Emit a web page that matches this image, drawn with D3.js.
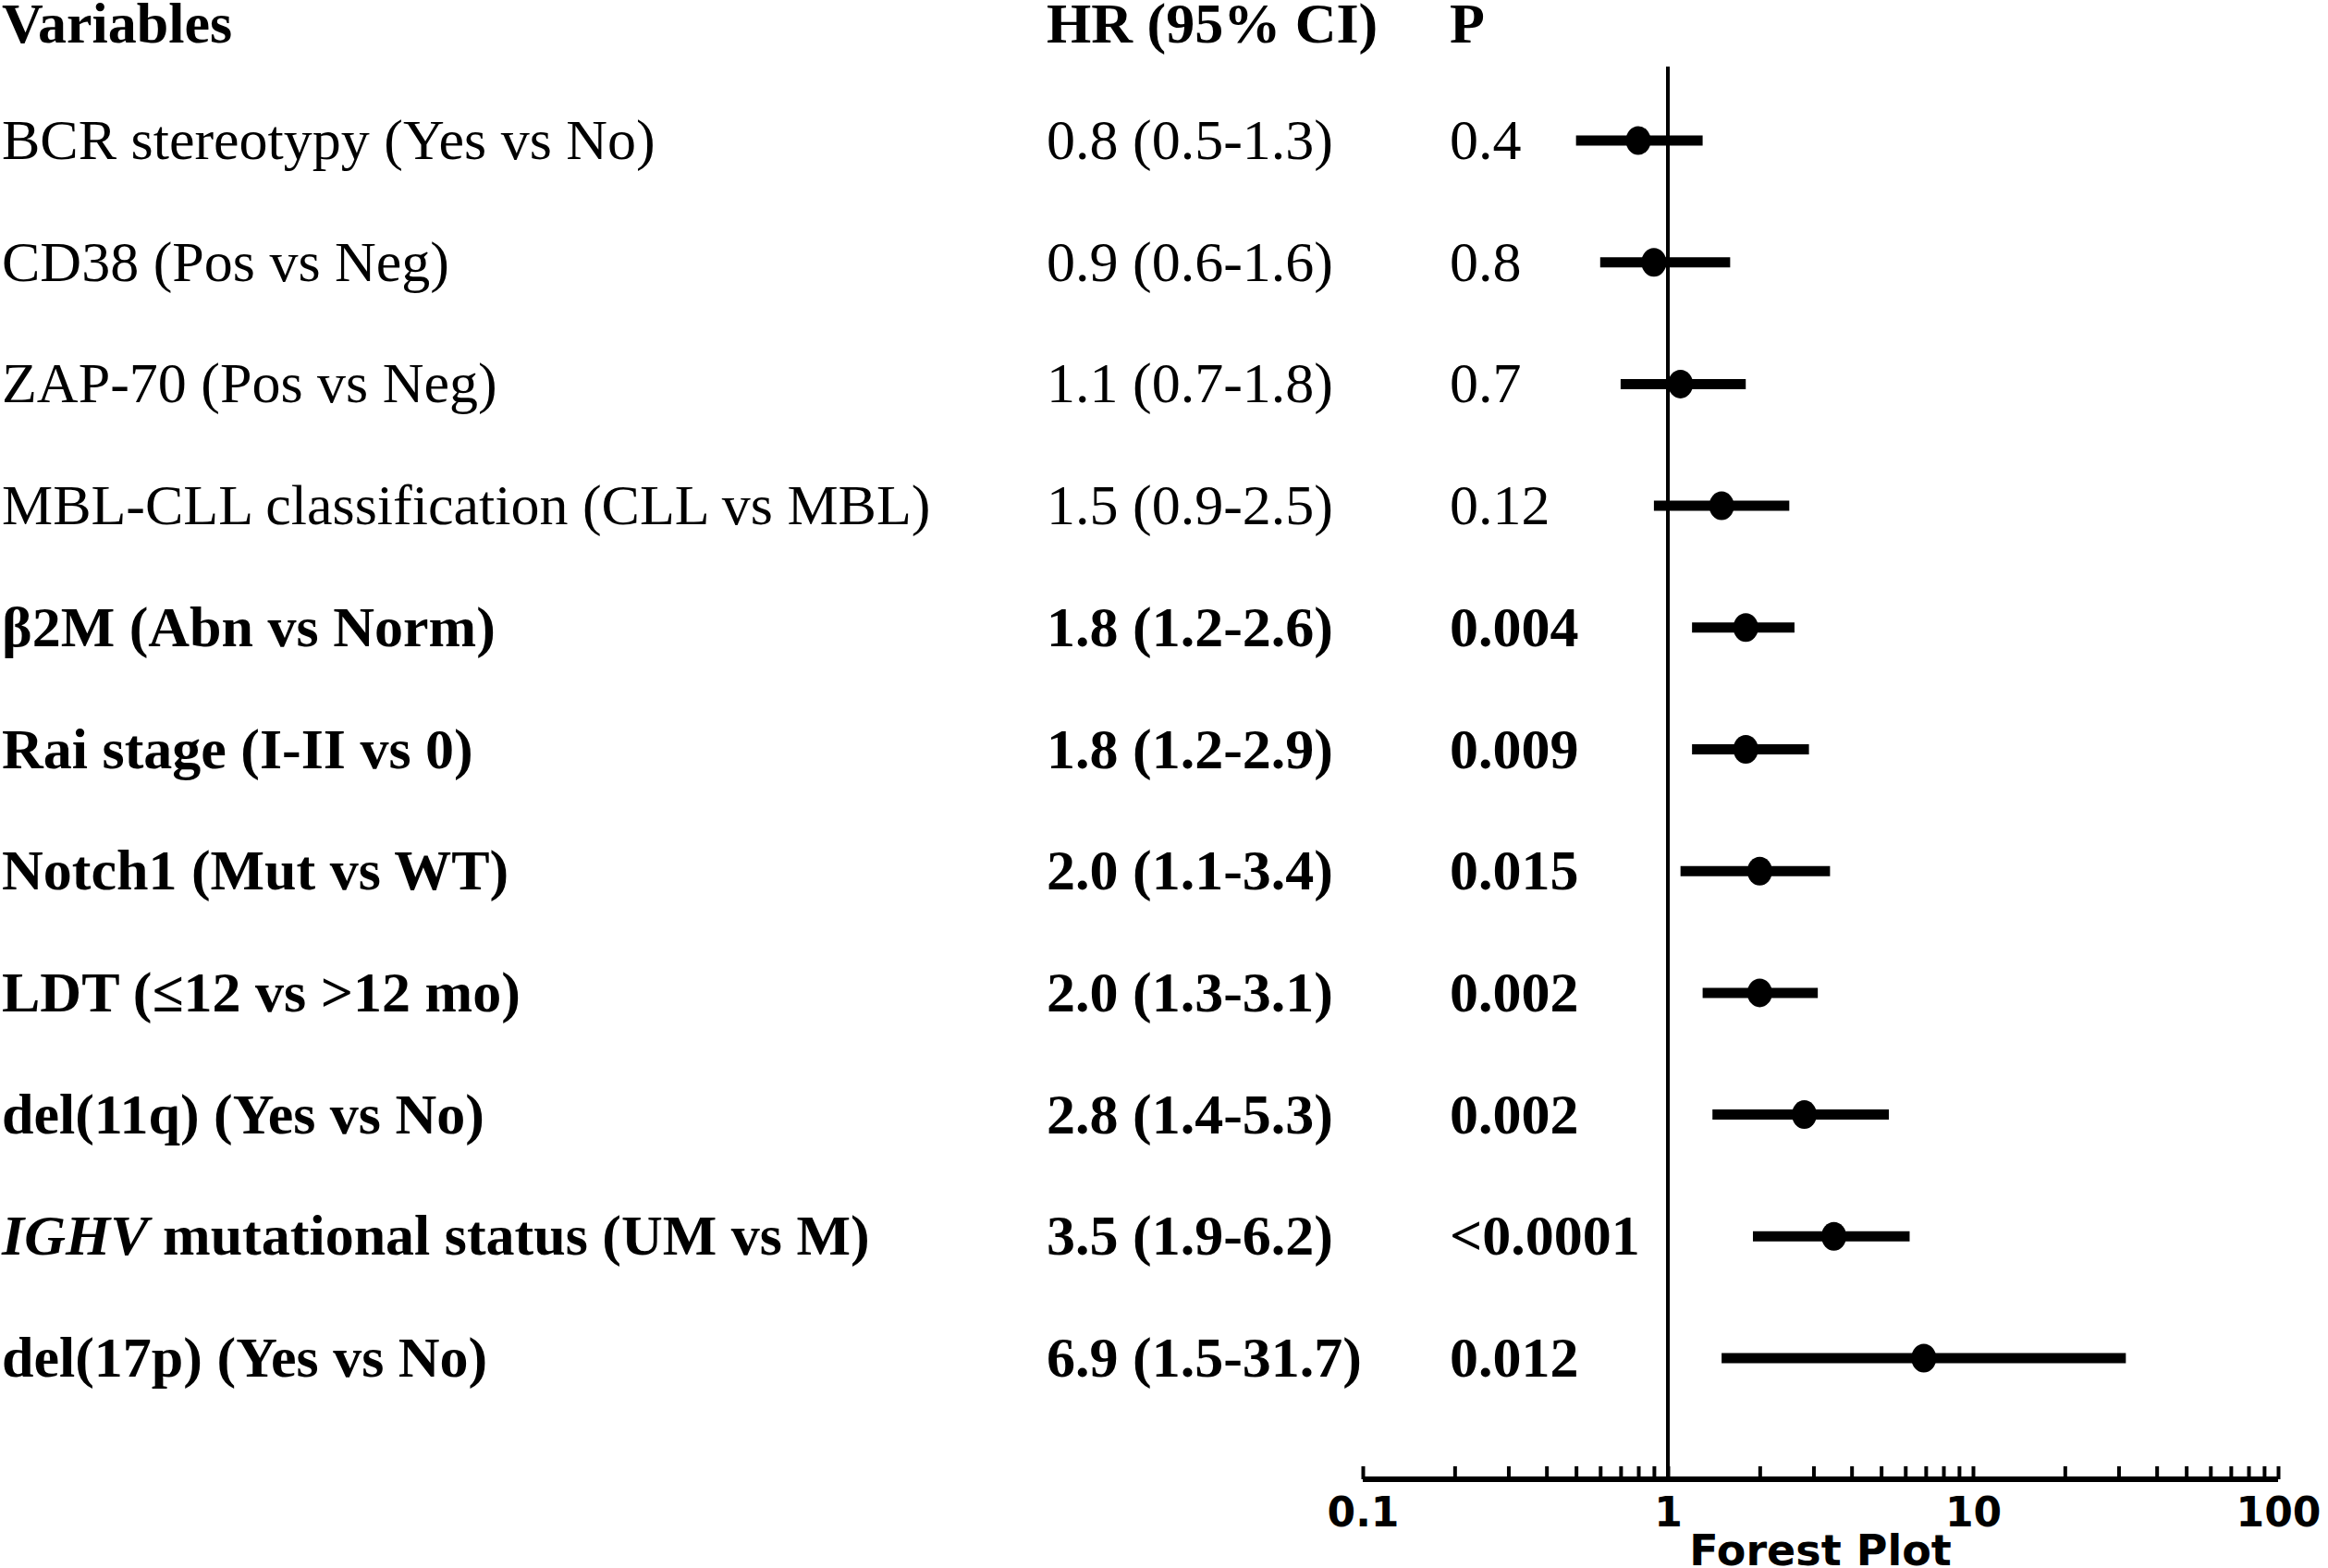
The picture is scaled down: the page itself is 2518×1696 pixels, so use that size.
<!DOCTYPE html>
<html>
<head>
<meta charset="utf-8">
<script src="https://cdn.jsdelivr.net/npm/d3@7"></script>
<style>
    body{ margin:0; background:#fff; }
    svg{ display:block; }
</style>
</head>
<body>
<div id="chart"></div>
<script>

let variables = [
    "BCR stereotypy (Yes vs No)",
    "CD38 (Pos vs Neg)",
    "ZAP-70 (Pos vs Neg)",
    "MBL-CLL classification (CLL vs MBL)",
    "β2M (Abn vs Norm)",
    "Rai stage (I-II vs 0)",
    "Notch1 (Mut vs WT)",
    "LDT (≤12 vs >12 mo)",
    "del(11q) (Yes vs No)",
    "IGHV mutational status (UM vs M)",
    "del(17p) (Yes vs No)"
];
let hr =    [0.8, 0.9, 1.1, 1.5, 1.8, 1.8, 2.0, 2.0, 2.8, 3.5, 6.9];
let lower = [0.5, 0.6, 0.7, 0.9, 1.2, 1.2, 1.1, 1.3, 1.4, 1.9, 1.5];
let upper = [1.3, 1.6, 1.8, 2.5, 2.6, 2.9, 3.4, 3.1, 5.3, 6.2, 31.7];
let pValues = ["0.4", "0.8", "0.7", "0.12", "0.004", "0.009", "0.015", "0.002", "0.002", "<0.0001", "0.012"];
let significant = [false, false, false, false, true, true, true, true, true, true, true];
let italicPrefix = ["", "", "", "", "", "", "", "", "", "IGHV", ""];
let headers = ["Variables", "HR (95% CI)", "P"];
let axisTicks = [0.1, 1, 10, 100];

let width = 2518, height = 1696;
let serif = "'Liberation Serif', 'Times New Roman', serif";
let sans = "'DejaVu Sans', Verdana, sans-serif";

let rows = variables.map((v, i) => ({
    name: v, hr: hr[i], lo: lower[i], hi: upper[i],
    p: pValues[i], bold: significant[i], italic: italicPrefix[i]
}));

let svg = d3.select("#chart").append("svg")
    .attr("width", width)
    .attr("height", height)
    .style("background", "#fff");

let x = d3.scaleLog().domain([0.1, 100]).range([1474, 2464]);
let y = d3.scalePoint().domain(d3.range(rows.length)).range([152, 1469]);
let axisY = 1600;

let colX = [2, 1132, 1568];

// column headers
svg.selectAll(".header").data(headers).enter().append("text")
    .attr("class", "header")
    .attr("x", (d, i) => colX[i])
    .attr("y", 46)
    .style("font-family", serif)
    .style("font-size", "62px")
    .style("font-weight", "bold")
    .text(d => d);

// table rows
let row = svg.selectAll(".row").data(rows).enter().append("g")
    .attr("class", "row")
    .attr("transform", (d, i) => `translate(0,${y(i) + 20})`)
    .style("font-family", serif)
    .style("font-size", "62px")
    .style("font-weight", d => d.bold ? "bold" : "normal");

row.append("text")
    .attr("x", colX[0])
    .each(function(d){
        let t = d3.select(this);
        if(d.italic){
            t.append("tspan").style("font-style", "italic").text(d.italic);
            t.append("tspan").text(d.name.slice(d.italic.length));
        }else{
            t.text(d.name);
        }
    });

row.append("text")
    .attr("x", colX[1])
    .text(d => `${d.hr.toFixed(1)} (${d.lo}-${d.hi})`);

row.append("text")
    .attr("x", colX[2])
    .text(d => d.p);

// reference line at HR = 1
svg.append("line")
    .attr("x1", x(1)).attr("x2", x(1))
    .attr("y1", 72).attr("y2", axisY)
    .style("stroke", "#000")
    .style("stroke-width", 4);

// confidence intervals
svg.selectAll(".ci").data(rows).enter().append("line")
    .attr("class", "ci")
    .attr("x1", d => x(d.lo))
    .attr("x2", d => x(d.hi))
    .attr("y1", (d, i) => y(i))
    .attr("y2", (d, i) => y(i))
    .style("stroke", "#000")
    .style("stroke-width", 11);

svg.selectAll(".point").data(rows).enter().append("ellipse")
    .attr("class", "point")
    .attr("cx", d => x(d.hr))
    .attr("cy", (d, i) => y(i))
    .attr("rx", 13.5)
    .attr("ry", 15.5)
    .style("fill", "#000");

// log axis with minor ticks pointing up
let tickVals = [];
for(let e = -1; e < 2; e++){
    for(let m = 1; m < 10; m++) tickVals.push(m * Math.pow(10, e));
}
tickVals.push(100);

let axis = d3.axisBottom(x)
    .tickValues(tickVals)
    .tickSizeInner(-14)
    .tickSizeOuter(0)
    .tickFormat(d => axisTicks.some(t => Math.abs(t - d) < 1e-9) ? d3.format("~g")(d) : "");

let gAxis = svg.append("g")
    .attr("transform", `translate(0,${axisY})`)
    .call(axis);

gAxis.select(".domain")
    .attr("d", `M${x(0.1)},0H${x(100)}`)
    .style("stroke", "#000")
    .style("stroke-width", 6);

gAxis.selectAll(".tick line")
    .style("stroke", "#000")
    .style("stroke-width", 4);

gAxis.selectAll(".tick text")
    .attr("y", 51)
    .attr("dy", null)
    .style("fill", "#000")
    .style("font-family", sans)
    .style("font-size", "44px")
    .style("font-weight", "bold");

svg.append("text")
    .attr("x", (x(0.1) + x(100)) / 2)
    .attr("y", 1693)
    .attr("text-anchor", "middle")
    .style("font-family", sans)
    .style("font-size", "46px")
    .style("font-weight", "bold")
    .text("Forest Plot");

</script>
</body>
</html>
